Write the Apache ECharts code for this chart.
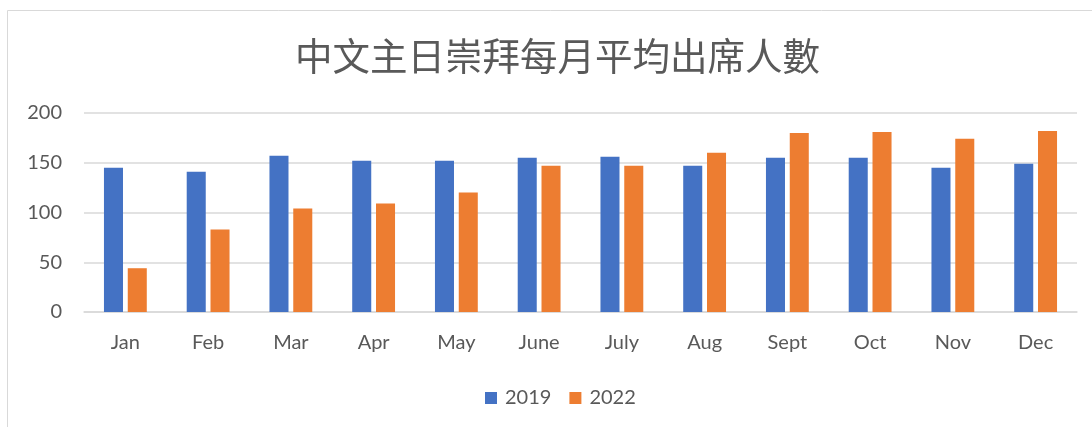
<!DOCTYPE html>
<html><head><meta charset="utf-8">
<script src="https://cdn.jsdelivr.net/npm/echarts@6/dist/echarts.min.js"></script>
<style>html,body{margin:0;padding:0;background:#fff;}#c{width:1092px;height:427px;}</style>
</head><body><div id="c"></div>
<script>
const categories = ['Jan','Feb','Mar','Apr','May','June','July','Aug','Sept','Oct','Nov','Dec'];
const values2019 = [145,141,157,152,152,155,156,147,155,155,145,149];
const values2022 = [44,83,104,109,120,147,147,160,180,181,174,182];
const seriesNames = ['2019','2022'];
const titleText = '中文主日崇拜每月平均出席人數';

const chart = echarts.init(document.getElementById('c'));
const txt = '#595959';
const font = 'Lato, "Open Sans", sans-serif';
chart.setOption({
  animation: false,
  graphic: [{type:'rect', shape:{x:7.5,y:10.5,width:1200,height:500}, style:{fill:'none', stroke:'#d9d9d9', lineWidth:1}, silent:true}],
  title: {text: titleText, left: 290, top: 32,
    textStyle: {fontFamily: '"Noto Sans CJK TC", sans-serif', fontWeight: 'normal', fontSize: 37.5, color: txt}},
  legend: {bottom: 14, left: 480, itemWidth: 12, itemHeight: 12, itemGap: 18,
    icon: 'rect', textStyle: {fontFamily: font, fontSize: 20, color: txt, padding: [0,0,0,3]}, data: seriesNames},
  grid: {left: 84, right: 15, top: 113, bottom: 115, containLabel: false},
  xAxis: {type: 'category', data: categories,
    axisLine: {lineStyle: {color: '#d9d9d9', width: 1.5}}, axisTick: {show: false},
    axisLabel: {color: txt, fontFamily: font, fontSize: 20, margin: 21}},
  yAxis: {type: 'value', min: 0, max: 200, interval: 50,
    axisLine: {show: false}, axisTick: {show: false},
    splitLine: {lineStyle: {color: '#d9d9d9', width: 1.5}},
    axisLabel: {color: txt, fontFamily: font, fontSize: 20, margin: 22}},
  series: [
    {name: seriesNames[0], type: 'bar', data: values2019, barWidth: '23%', barGap: '25%',
      itemStyle: {color: '#4472c4'}},
    {name: seriesNames[1], type: 'bar', data: values2022, barWidth: '23%', barGap: '25%',
      itemStyle: {color: '#ed7d31'}}
  ]
});
</script></body></html>
